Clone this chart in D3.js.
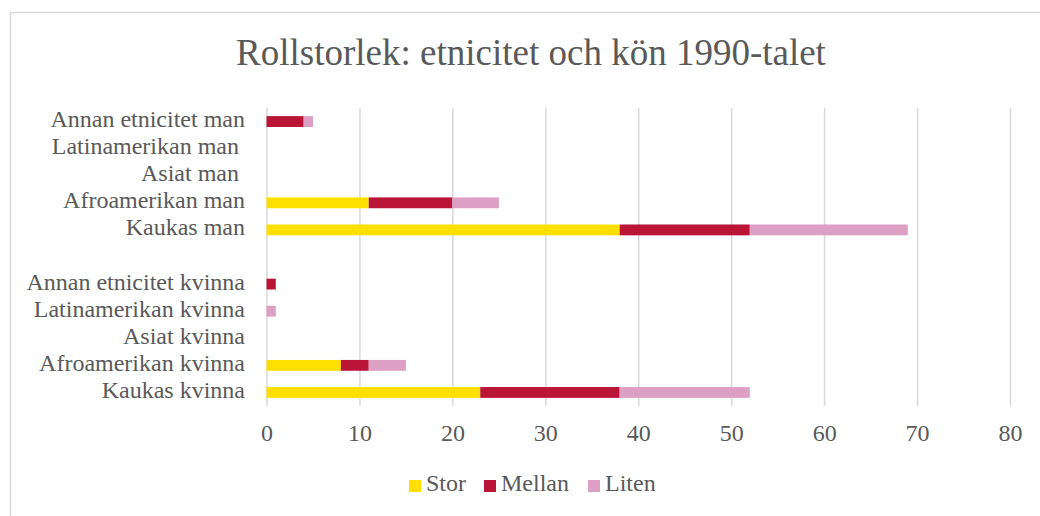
<!DOCTYPE html>
<html lang="sv">
<meta charset="utf-8">
<head>
    <script src='https://d3js.org/d3.v7.min.js'></script>
    <style>
        body { margin: 0; background: #fff; }
        text { font-family: "Liberation Serif", "Times New Roman", serif; fill: #595959; }
    </style>
</head>
<body>
<script>
    // data (top row first)
    var categories = ["Annan etnicitet man", "Latinamerikan man ", "Asiat man ", "Afroamerikan man", "Kaukas man", "",
        "Annan etnicitet kvinna", "Latinamerikan kvinna", "Asiat kvinna", "Afroamerikan kvinna", "Kaukas kvinna"];
    var stor   = [0, 0, 0, 11, 38, 0, 0, 0, 0, 8, 23];
    var mellan = [4, 0, 0, 9, 14, 0, 1, 0, 0, 3, 15];
    var liten  = [1, 0, 0, 5, 17, 0, 0, 1, 0, 4, 14];
    var seriesNames = ["Stor", "Mellan", "Liten"];
    var seriesColors = ["#ffdf00", "#ba1437", "#dd9fc4"];
    var xTicks = [0, 10, 20, 30, 40, 50, 60, 70, 80];
    var title = "Rollstorlek: etnicitet och kön 1990-talet";

    var width = 1040, height = 516;

    var rows = categories.map(function(c, i) {
        return { cat: c, Stor: stor[i], Mellan: mellan[i], Liten: liten[i] };
    });

    var svg = d3.select("body")
        .append("svg")
        .attr("width", width)
        .attr("height", height);

    // chart border (runs off the right and bottom edge)
    svg.append("rect")
        .attr("x", 10.5)
        .attr("y", 12.5)
        .attr("width", 1100)
        .attr("height", 600)
        .attr("fill", "#fff")
        .attr("stroke", "#d9d9d9")
        .attr("stroke-width", 1.5);

    svg.append("text")
        .attr("x", 531)
        .attr("y", 65)
        .attr("text-anchor", "middle")
        .style("font-size", "37px")
        .text(title);

    var x = d3.scaleLinear()
        .domain([0, 80])
        .range([266.5, 1010]);

    var y = d3.scaleBand()
        .domain(categories)
        .range([108, 406])
        .paddingInner(0.6)
        .paddingOuter(0.3);

    // gridlines + tick labels
    var xaxis = svg.append("g")
        .attr("transform", "translate(0,406)")
        .call(d3.axisBottom(x)
            .tickValues(xTicks)
            .tickSize(-298)
            .tickPadding(18));
    xaxis.select(".domain").remove();
    xaxis.selectAll(".tick line")
        .attr("stroke", "#d9d9d9")
        .attr("stroke-width", 1.5);
    xaxis.selectAll(".tick text")
        .style("font-size", "24px")
        .style("font-family", "'Liberation Serif', 'Times New Roman', serif")
        .attr("fill", "#595959");

    // category labels
    svg.append("g")
        .selectAll("text")
        .data(categories)
        .enter()
        .append("text")
        .attr("x", 245)
        .attr("y", function(d) { return y(d) + y.bandwidth() / 2; })
        .attr("dy", "0.23em")
        .attr("text-anchor", "end")
        .style("font-size", "24px")
        .style("white-space", "pre")
        .text(function(d) { return d; });

    // stacked bars
    var stacked = d3.stack().keys(seriesNames)(rows);

    svg.append("g")
        .selectAll("g")
        .data(stacked)
        .enter()
        .append("g")
        .attr("fill", function(d, i) { return seriesColors[i]; })
        .selectAll("rect")
        .data(function(d) { return d.filter(function(p) { return p[1] > p[0]; }); })
        .enter()
        .append("rect")
        .attr("x", function(d) { return x(d[0]); })
        .attr("y", function(d) { return y(d.data.cat); })
        .attr("width", function(d) { return x(d[1]) - x(d[0]); })
        .attr("height", y.bandwidth());

    // legend
    var legendX = [409, 484, 588];
    var legend = svg.append("g")
        .selectAll("g")
        .data(seriesNames)
        .enter()
        .append("g")
        .attr("transform", function(d, i) { return "translate(" + legendX[i] + ",480)"; });

    legend.append("rect")
        .attr("width", 12)
        .attr("height", 12)
        .attr("fill", function(d, i) { return seriesColors[i]; });

    legend.append("text")
        .attr("x", 17)
        .attr("y", 11)
        .style("font-size", "24px")
        .text(function(d) { return d; });
</script>
</body>
</html>
